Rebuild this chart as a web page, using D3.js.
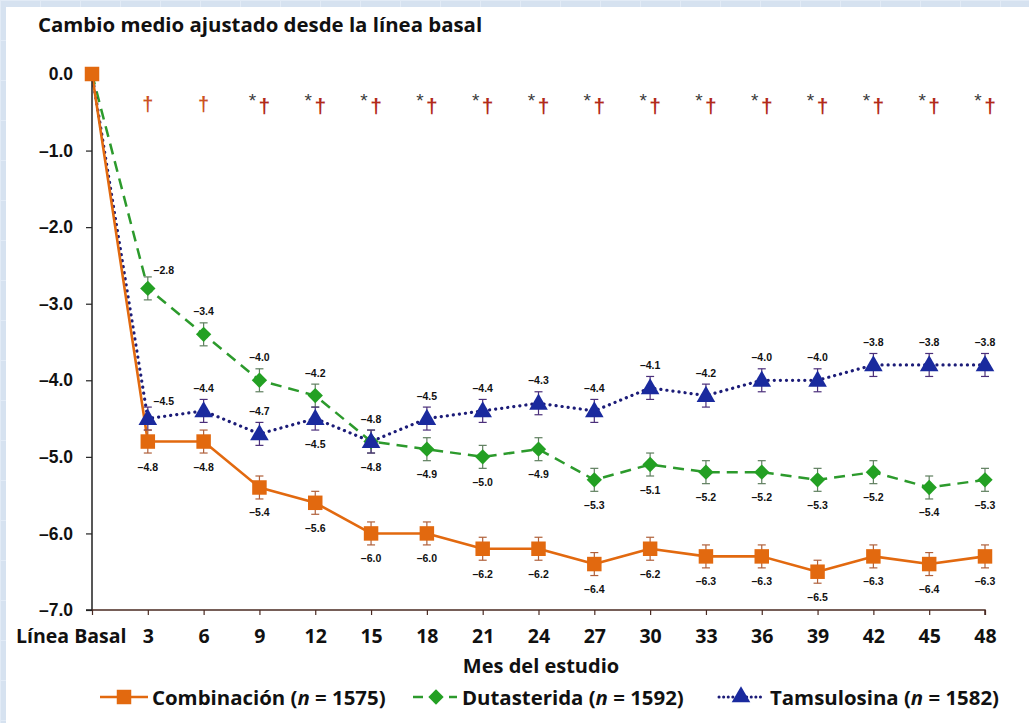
<!DOCTYPE html>
<html>
<head>
<meta charset="utf-8">
<script src="https://cdn.jsdelivr.net/npm/d3@7"></script>
<style>
  html, body { margin: 0; padding: 0; background: #d8e3f1; }
  svg { display: block; }
</style>
</head>
<body>
<svg id="chart" width="1029" height="723"></svg>
<script>
// ---------------- DATA ----------------
const months = [0, 3, 6, 9, 12, 15, 18, 21, 24, 27, 30, 33, 36, 39, 42, 45, 48];
const tickLabels = ["Línea Basal", "3", "6", "9", "12", "15", "18", "21", "24", "27", "30", "33", "36", "39", "42", "45", "48"];
const yTicks = [0, -1, -2, -3, -4, -5, -6, -7];

const combinacion = [0, -4.8, -4.8, -5.4, -5.6, -6.0, -6.0, -6.2, -6.2, -6.4, -6.2, -6.3, -6.3, -6.5, -6.3, -6.4, -6.3];
const dutasterida = [0, -2.8, -3.4, -4.0, -4.2, -4.8, -4.9, -5.0, -4.9, -5.3, -5.1, -5.2, -5.2, -5.3, -5.2, -5.4, -5.3];
const tamsulosina = [0, -4.5, -4.4, -4.7, -4.5, -4.8, -4.5, -4.4, -4.3, -4.4, -4.1, -4.2, -4.0, -4.0, -3.8, -3.8, -3.8];

const combinacionSE = [0, 0.15, 0.15, 0.15, 0.15, 0.15, 0.15, 0.15, 0.15, 0.15, 0.15, 0.15, 0.15, 0.15, 0.15, 0.15, 0.15];
const dutasteridaSE = [0, 0.15, 0.15, 0.15, 0.15, 0.15, 0.15, 0.15, 0.15, 0.15, 0.15, 0.15, 0.15, 0.15, 0.15, 0.15, 0.15];
const tamsulosinaSE = [0, 0.15, 0.15, 0.15, 0.15, 0.15, 0.15, 0.15, 0.15, 0.15, 0.15, 0.15, 0.15, 0.15, 0.15, 0.15, 0.15];

// label placement: "a" above, "b" below, "ar" above-right, "" none
const combinacionLabelPos = ["", "b", "b", "b", "b", "b", "b", "b", "b", "b", "b", "b", "b", "b", "b", "b", "b"];
const dutasteridaLabelPos = ["", "ar", "a", "a", "a", "b", "b", "b", "b", "b", "b", "b", "b", "b", "b", "b", "b"];
const tamsulosinaLabelPos = ["", "ar", "a", "a", "b", "a", "a", "a", "a", "a", "a", "a", "a", "a", "a", "a", "a"];

const significance = ["", "†", "†", "*†", "*†", "*†", "*†", "*†", "*†", "*†", "*†", "*†", "*†", "*†", "*†", "*†", "*†"];

const seriesNames = ["Combinación", "Dutasterida", "Tamsulosina"];
const seriesN = [1575, 1592, 1582];

// ---------------- CHART ----------------
const svg = d3.select("#chart");
const W = 1029, H = 723;

// background with faint grid
const defs = svg.append("defs");
const pat = defs.append("pattern").attr("id", "bgpat").attr("width", 40).attr("height", 40)
  .attr("patternUnits", "userSpaceOnUse");
pat.append("rect").attr("width", 40).attr("height", 40).attr("fill", "#d6e2f0");
pat.append("path").attr("d", "M0 0.5H40M0.5 0V40").attr("stroke", "#e2ebf6").attr("stroke-width", 1);
svg.append("rect").attr("width", W).attr("height", H).attr("fill", "url(#bgpat)");
svg.append("rect").attr("x", 6).attr("y", 7).attr("width", W - 6).attr("height", H - 7).attr("fill", "#ffffff");

const x = d3.scaleLinear().domain([0, 48]).range([92, 985]);
const y = d3.scaleLinear().domain([-7, 0]).range([610, 74]);

const fontSans = "'Open Sans', 'DejaVu Sans', sans-serif";
const fontArial = "'Liberation Sans', Arial, sans-serif";

// Title
svg.append("text").attr("x", 38).attr("y", 32)
  .attr("font-family", fontSans).attr("font-weight", 700).attr("font-size", 20.4)
  .attr("fill", "#111").text("Cambio medio ajustado desde la línea basal");

const colors = {
  comb: "#e2690f",
  dut: "#23a023",
  dutLine: "#2c9a2c",
  tams: "#1a2a9e",
  tamsLine: "#1c1c78"
};

const series = [
  { key: "dut", values: dutasterida, se: dutasteridaSE, pos: dutasteridaLabelPos, color: colors.dut, line: colors.dutLine, dash: "11,7", width: 2.5, cap: "butt", err: "#5f7f5f" },
  { key: "tams", values: tamsulosina, se: tamsulosinaSE, pos: tamsulosinaLabelPos, color: colors.tams, line: colors.tamsLine, dash: "0.1,6", width: 3.2, cap: "round", err: "#4b2f7a" },
  { key: "comb", values: combinacion, se: combinacionSE, pos: combinacionLabelPos, color: colors.comb, line: colors.comb, dash: null, width: 2.6, cap: "butt", err: "#b0603a" }
];

const lineGen = d3.line().x(d => x(d.m)).y(d => y(d.v));

// lines
series.forEach(s => {
  const pts = months.map((m, i) => ({ m, v: s.values[i] }));
  const p = svg.append("path").datum(pts).attr("d", lineGen)
    .attr("fill", "none").attr("stroke", s.line).attr("stroke-width", s.width)
    .attr("stroke-linecap", s.cap).attr("stroke-linejoin", "round");
  if (s.dash) p.attr("stroke-dasharray", s.dash);
});

// axes
const yAxis = d3.axisLeft(y).tickValues(yTicks)
  .tickFormat(d => (d < 0 ? "–" + Math.abs(d).toFixed(1) : d.toFixed(1)))
  .tickSize(6).tickPadding(13);
const gy = svg.append("g").attr("transform", `translate(${x(0)},0)`).call(yAxis);
gy.select(".domain").attr("stroke", "#222").attr("stroke-width", 1.5).attr("d", `M-6,${y(-7)}H0V${y(0)}`);
gy.selectAll(".tick line").attr("stroke", "#222").attr("stroke-width", 1.2);
gy.selectAll(".tick text").attr("font-family", fontArial).attr("font-weight", 700)
  .attr("font-size", 17.5).attr("fill", "#111");

const xAxis = d3.axisBottom(x).tickValues(months)
  .tickFormat((d, i) => tickLabels[i]).tickSize(5).tickPadding(14);
const gx = svg.append("g").attr("transform", `translate(0,${y(-7)})`).call(xAxis);
gx.select(".domain").attr("stroke", "#4a2a22").attr("stroke-width", 1.5).attr("d", `M${x(0)},0H${x(48)}V5`);
gx.selectAll(".tick line").attr("stroke", "#4a2a22").attr("stroke-width", 1.2);
gx.selectAll(".tick text").attr("font-family", fontSans).attr("font-weight", 700)
  .attr("font-size", 19.5).attr("fill", "#111");
gx.selectAll(".tick").filter(d => d === 0).select("text")
  .attr("text-anchor", "end").attr("dx", 34);

// x axis title
svg.append("text").attr("x", 541).attr("y", 673).attr("text-anchor", "middle")
  .attr("font-family", fontSans).attr("font-weight", 700).attr("font-size", 20)
  .attr("fill", "#111").text("Mes del estudio");

// significance markers
const sig = svg.append("g");
months.forEach((m, i) => {
  const s = significance[i];
  if (!s) return;
  const cx = x(m);
  if (s.includes("*")) {
    sig.append("text").attr("x", cx - 7).attr("y", 107).attr("text-anchor", "middle")
      .attr("font-family", fontArial).attr("font-size", 19).attr("fill", "#3a3a3a").text("*");
    sig.append("text").attr("x", cx + 5).attr("y", 113).attr("text-anchor", "middle")
      .attr("font-family", fontArial).attr("font-weight", 700).attr("font-size", 21).attr("fill", "#b22a1a").text("†");
  } else {
    sig.append("text").attr("x", cx).attr("y", 111).attr("text-anchor", "middle")
      .attr("font-family", fontArial).attr("font-weight", 700).attr("font-size", 20).attr("fill", "#cc5222").text("†");
  }
});

// error bars
series.forEach(s => {
  const g = svg.append("g");
  months.forEach((m, i) => {
    if (!s.se[i]) return;
    const cx = x(m), y1 = y(s.values[i] + s.se[i]), y2 = y(s.values[i] - s.se[i]);
    g.append("line").attr("x1", cx).attr("x2", cx).attr("y1", y1).attr("y2", y2)
      .attr("stroke", s.err).attr("stroke-width", 1.2);
    [y1, y2].forEach(yy => g.append("line").attr("x1", cx - 4).attr("x2", cx + 4)
      .attr("y1", yy).attr("y2", yy).attr("stroke", s.err).attr("stroke-width", 1.2));
  });
});

// markers
const symDiamond = d3.symbol().type(d3.symbolDiamond2).size(150);
const symTri = d3.symbol().type(d3.symbolTriangle).size(150);
const symSq = d3.symbol().type(d3.symbolSquare).size(210);

series.forEach(s => {
  const g = svg.append("g");
  months.forEach((m, i) => {
    if (i === 0 && s.key !== "comb") return;
    const cx = x(m), cy = y(s.values[i]);
    const sym = s.key === "dut" ? symDiamond : s.key === "tams" ? symTri : symSq;
    g.append("path").attr("d", sym()).attr("transform", `translate(${cx},${cy + (s.key === "tams" ? 1 : 0)})`)
      .attr("fill", s.color);
  });
});

// value labels
const fmt = v => "–" + Math.abs(v).toFixed(1);
series.forEach(s => {
  const g = svg.append("g");
  months.forEach((m, i) => {
    const p = s.pos[i];
    if (!p) return;
    let lx = x(m), ly;
    const cy = y(s.values[i]);
    if (p === "b") ly = cy + 29;
    else if (p === "a") ly = cy - 19;
    else if (p === "ar") { lx = lx + 16; ly = cy - 14; }
    g.append("text").attr("x", lx).attr("y", ly).attr("text-anchor", "middle")
      .attr("font-family", fontArial).attr("font-weight", 700).attr("font-size", 10.5)
      .attr("fill", "#111").text(fmt(s.values[i]));
  });
});

// legend
const lg = svg.append("g");
const ly0 = 697;
// Combinación
lg.append("line").attr("x1", 100).attr("x2", 148).attr("y1", ly0).attr("y2", ly0)
  .attr("stroke", colors.comb).attr("stroke-width", 2.6);
lg.append("path").attr("d", symSq()).attr("transform", `translate(124,${ly0})`).attr("fill", colors.comb);
// Dutasterida
lg.append("line").attr("x1", 413).attr("x2", 423).attr("y1", ly0).attr("y2", ly0)
  .attr("stroke", colors.dutLine).attr("stroke-width", 2.5);
lg.append("line").attr("x1", 449).attr("x2", 457).attr("y1", ly0).attr("y2", ly0)
  .attr("stroke", colors.dutLine).attr("stroke-width", 2.5);
lg.append("path").attr("d", symDiamond()).attr("transform", `translate(436,${ly0})`).attr("fill", colors.dut);
// Tamsulosina
lg.append("line").attr("x1", 719).attr("x2", 762).attr("y1", ly0).attr("y2", ly0)
  .attr("stroke", colors.tamsLine).attr("stroke-width", 3).attr("stroke-linecap", "round")
  .attr("stroke-dasharray", "0.1,4.5");
lg.append("path").attr("d", symTri()).attr("transform", `translate(741,${ly0})`).attr("fill", colors.tams);

const legendX = [152, 462, 770];
seriesNames.forEach((name, i) => {
  const t = lg.append("text").attr("x", legendX[i]).attr("y", ly0 + 8)
    .attr("font-family", fontSans).attr("font-weight", 700).attr("font-size", 20.4).attr("fill", "#111");
  t.append("tspan").text(name + " (");
  t.append("tspan").attr("font-style", "italic").text("n");
  t.append("tspan").text(" = " + seriesN[i] + ")");
});
</script>
</body>
</html>
